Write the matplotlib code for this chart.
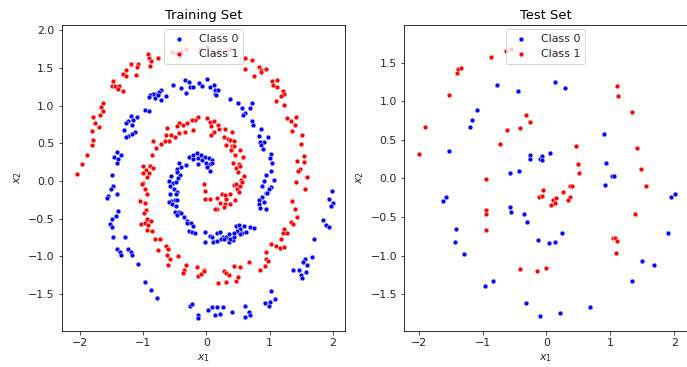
import numpy as np
import matplotlib
matplotlib.use("Agg")
import matplotlib.pyplot as plt

# training set, class 0 (blue) -- (x1, x2)
train_class0 = np.array([
    [-0.712, 1.214], [-0.744, 1.182], [-0.813, 1.151], [-0.850, 1.161], [-0.886, 1.138],
    [-0.908, 1.112], [-0.813, 1.102], [-0.759, 1.147], [-0.723, 1.072], [-0.633, 1.129],
    [-0.528, 1.271], [-0.407, 1.235], [-0.343, 1.337], [-0.269, 1.315], [-0.328, 1.169],
    [-0.264, 1.244], [-0.217, 1.244], [-0.117, 1.307], [-0.063, 1.262],
    [0.009, 1.351], [0.063, 1.248], [0.116, 1.280], [0.142, 1.205], [0.184, 1.205],
    [0.131, 1.151], [0.152, 1.138], [0.380, 1.085], [0.500, 1.041], [0.722, 1.032],
    [-0.971, 0.948], [-0.908, 0.926], [-1.198, 0.859], [-1.092, 0.846], [-1.155, 0.810],
    [-1.234, 0.793], [-1.277, 0.770], [-1.182, 0.744], [-1.304, 0.677], [-1.130, 0.647],
    [-1.171, 0.624], [-1.234, 0.603], [-1.277, 0.580], [-1.419, 0.381], [-1.345, 0.345],
    [-1.462, 0.324], [-1.399, 0.292], [-1.408, 0.239], [-1.487, 0.085],
    [-0.275, 0.324], [-0.206, 0.345], [-0.142, 0.372], [-0.206, 0.292], [-0.133, 0.301],
    [-0.090, 0.351], [-0.063, 0.279], [-0.328, 0.212], [-0.434, 0.235], [-0.396, 0.182],
    [-0.459, 0.159], [-0.565, 0.072], [-0.470, 0.116], [-0.418, 0.080], [-0.449, 0.036],
    [-0.127, 0.226],
    [0.696, 0.965], [0.563, 0.965], [0.617, 0.899], [0.579, 0.882], [0.722, 0.802],
    [0.737, 0.749], [0.864, 0.691], [0.828, 0.603], [0.970, 0.590], [0.907, 0.523],
    [0.843, 0.523], [0.870, 0.483], [0.896, 0.425], [1.028, 0.359], [1.002, 0.301],
    [1.038, 0.239], [1.013, 0.138], [0.949, 0.080], [1.065, 0.019],
    [-0.016, 0.324], [0.036, 0.301], [0.089, 0.284], [0.000, 0.239], [0.052, 0.226],
    [0.089, 0.235], [0.009, 0.191], [0.063, 0.129],
    [-1.478, -0.066], [-1.514, -0.110], [-1.419, -0.177], [-1.551, -0.199], [-1.566, -0.220],
    [-1.399, -0.398], [-1.435, -0.465], [-1.487, -0.499], [-1.525, -0.575], [-1.487, -0.611],
    [-1.472, -0.744], [-1.293, -0.744], [-1.419, -0.907], [-1.367, -0.943], [-1.356, -0.983],
    [-1.234, -0.907], [-1.198, -0.943], [-1.182, -0.987],
    [-0.592, 0.000], [-0.522, -0.022], [-0.486, -0.013], [-0.581, -0.066],
    [-0.513, -0.101], [-0.459, -0.146], [-0.576, -0.177], [-0.486, -0.177], [-0.554, -0.266],
    [-0.502, -0.252], [-0.459, -0.252], [-0.592, -0.279], [-0.538, -0.309], [-0.486, -0.332],
    [-0.502, -0.406], [-0.434, -0.412], [-0.459, -0.456], [-0.396, -0.420], [-0.354, -0.473],
    [-0.312, -0.531], [-0.301, -0.562], [-0.248, -0.552], [-0.206, -0.598], [-0.275, -0.664],
    [-0.222, -0.672], [-0.185, -0.685],
    [0.907, 0.000], [0.880, -0.066], [1.013, -0.075], [0.986, -0.110], [0.934, -0.154],
    [0.959, -0.163], [0.880, -0.212], [0.828, -0.252], [0.907, -0.279], [0.828, -0.309],
    [0.839, -0.354], [0.934, -0.367],
    [-0.016, -0.672], [0.052, -0.730], [0.089, -0.738], [-0.027, -0.805], [0.104, -0.805],
    [0.168, -0.797], [0.168, -0.695], [0.222, -0.677], [0.263, -0.738], [0.231, -0.774],
    [0.316, -0.738], [0.285, -0.765], [0.353, -0.708], [0.353, -0.805], [0.421, -0.788],
    [0.380, -0.765], [0.432, -0.738], [0.475, -0.598], [0.511, -0.588], [0.538, -0.632],
    [0.484, -0.664], [0.563, -0.685], [0.527, -0.708], [0.633, -0.672], [0.696, -0.611],
    [0.748, -0.628], [0.601, -0.598], [0.443, -0.685],
    [1.987, -0.133], [1.935, -0.234], [2.003, -0.296], [1.962, -0.332], [1.840, -0.518],
    [1.883, -0.588], [1.935, -0.611], [1.698, -0.765],
    [-1.076, -1.102], [-0.971, -1.341], [-0.881, -1.442], [-0.775, -1.554], [-0.259, -1.655],
    [-0.222, -1.628], [-0.133, -1.774], [-0.133, -1.819],
    [1.555, -1.031], [1.671, -1.013], [1.529, -1.076], [1.592, -1.120], [1.370, -1.177],
    [1.460, -1.186], [1.566, -1.208], [1.487, -1.252], [1.503, -1.288], [1.028, -1.456],
    [1.076, -1.562], [0.922, -1.620], [0.997, -1.607], [0.986, -1.655], [0.025, -1.717],
    [0.089, -1.673], [0.168, -1.673], [0.258, -1.673], [0.142, -1.774], [0.222, -1.761],
    [0.405, -1.744], [0.617, -1.655], [0.669, -1.740], [0.685, -1.774], [0.617, -1.806],
])

# training set, class 1 (red)
train_class1 = np.array([
    [-0.924, 1.679], [-0.913, 1.629], [-0.760, 1.634], [-0.881, 1.590], [-0.897, 1.527],
    [-1.082, 1.559], [-1.103, 1.510], [-1.187, 1.546], [-1.108, 1.413], [-1.272, 1.470],
    [-1.324, 1.426], [-1.272, 1.394], [-1.483, 1.324], [-1.498, 1.262], [-1.451, 1.262],
    [-1.388, 1.258], [-1.399, 1.218], [-1.324, 1.200], [-1.630, 1.041],
    [-0.538, 1.713], [-0.475, 1.705], [-0.407, 1.713], [-0.316, 1.753], [-0.106, 1.758],
    [0.005, 1.775], [0.142, 1.692], [0.195, 1.736], [0.326, 1.736], [0.380, 1.758],
    [0.606, 1.633], [0.722, 1.607], [0.617, 1.483], [0.828, 1.519], [0.864, 1.479],
    [0.934, 1.483], [0.870, 1.440], [0.759, 1.390], [1.038, 1.324], [1.112, 1.337],
    [1.049, 1.271], [1.108, 1.244], [1.207, 1.195], [1.223, 1.161], [1.180, 1.125],
    [1.092, 1.062],
    [-1.672, 0.979], [-1.630, 0.935], [-1.684, 0.882], [-1.788, 0.855],
    [-1.767, 0.766], [-1.699, 0.722], [-1.815, 0.660], [-1.794, 0.544], [-1.804, 0.483],
    [-1.883, 0.345], [-1.962, 0.226], [-2.052, 0.093],
    [-0.127, 0.855], [-0.180, 0.810], [-0.233, 0.810], [-0.312, 0.766], [-0.364, 0.744],
    [-0.434, 0.766], [-0.459, 0.736], [-0.617, 0.704], [-0.633, 0.616], [-0.565, 0.611],
    [-0.434, 0.637], [-0.343, 0.647], [-0.206, 0.677], [-0.502, 0.590], [-0.592, 0.527],
    [-0.660, 0.527], [-0.723, 0.491], [-0.802, 0.438], [-0.839, 0.527], [-0.866, 0.345],
    [-0.997, 0.195], [-0.897, 0.204], [-0.839, 0.169], [-0.960, 0.146], [-1.003, 0.102],
    [-0.908, 0.102], [-0.945, 0.049],
    [0.009, 0.833], [0.063, 0.780], [0.116, 0.802], [0.179, 0.744], [0.073, 0.726],
    [0.116, 0.647], [0.073, 0.611], [0.195, 0.691], [0.301, 0.691], [0.405, 0.647],
    [0.274, 0.580], [0.337, 0.558], [0.369, 0.544], [0.432, 0.536], [0.316, 0.483],
    [0.405, 0.461], [0.443, 0.470], [0.396, 0.412], [0.459, 0.351], [0.538, 0.412],
    [0.579, 0.324], [0.421, 0.239], [0.511, 0.226], [0.538, 0.204], [0.468, 0.173],
    [0.500, 0.116], [0.590, 0.062], [0.554, 0.019],
    [1.223, 1.009], [1.275, 0.833], [1.408, 0.855], [1.329, 0.802], [1.392, 0.744],
    [1.354, 0.669], [1.513, 0.616], [1.497, 0.491], [1.540, 0.328], [1.434, 0.262],
    [1.540, 0.248], [1.471, 0.159], [1.449, 0.129], [1.592, 0.049],
    [-0.997, -0.031], [-1.024, -0.044], [-0.971, -0.110], [-0.934, -0.177],
    [-1.055, -0.266], [-0.976, -0.287], [-0.949, -0.389], [-0.987, -0.429], [-0.934, -0.499],
    [-0.881, -0.531], [-1.029, -0.575], [-0.976, -0.552], [-0.924, -0.588], [-0.945, -0.655],
    [-0.854, -0.664], [-0.813, -0.774], [-0.739, -0.765], [-0.759, -0.920], [-0.633, -0.863],
    [-0.608, -0.898], [-0.628, -0.987], [-0.449, -0.996],
    [-0.043, -0.044], [-0.016, -0.133], [0.052, -0.243], [-0.016, -0.234], [0.168, -0.220],
    [0.247, -0.177], [0.301, -0.190], [0.369, -0.177], [0.316, -0.243], [0.222, -0.296],
    [0.301, -0.309], [0.369, -0.309], [0.459, -0.252], [0.274, -0.345], [0.168, -0.367],
    [0.142, -0.376], [0.432, -0.057], [0.475, -0.044], [0.484, -0.110], [0.511, -0.146],
    [0.538, -0.066], [0.563, -0.013],
    [1.408, -0.013], [1.551, -0.110], [1.354, -0.266], [1.392, -0.367], [1.424, -0.473],
    [1.329, -0.544], [1.370, -0.566], [1.223, -0.641], [1.207, -0.685], [1.266, -0.685],
    [1.180, -0.765], [1.028, -0.831], [1.092, -0.863], [1.160, -0.894], [1.223, -0.880],
    [0.934, -0.938],
    [-0.576, -1.031], [-0.601, -1.120], [-0.328, -1.120], [-0.354, -1.177], [-0.364, -1.222],
    [-0.142, -1.146], [-0.133, -1.266], [-0.079, -1.235],
    [-0.043, -1.177], [-0.032, -1.199], [0.184, -1.355], [0.274, -1.190], [0.310, -1.222],
    [0.353, -1.252], [0.316, -1.341], [0.432, -1.133], [0.527, -1.146], [0.475, -1.323],
    [0.495, -1.279], [0.669, -1.076], [0.934, -1.031], [0.970, -1.057], [0.918, -1.133],
    [0.843, -1.177],
])

# test set, class 0 (blue)
test_class0 = np.array([
    [-0.773, 1.211], [-0.438, 1.137], [0.130, 1.253], [0.286, 1.168], [-1.095, 0.879],
    [-1.158, 0.758], [-1.200, 0.659], [-1.529, 0.354], [-0.563, 0.065], [-0.433, 0.090],
    [-0.250, 0.302], [-0.261, 0.251], [-0.105, 0.251], [-0.063, 0.293], [-0.069, 0.233],
    [0.052, 0.323], [0.897, 0.574], [0.939, 0.194], [1.027, 0.035], [1.058, 0.035],
    [0.923, -0.081], [-1.618, -0.297], [-1.576, -0.240], [-1.419, -0.650], [-1.435, -0.822],
    [-1.294, -0.986], [-0.563, -0.370], [-0.548, -0.430], [-0.351, -0.460], [-0.297, -0.563],
    [-0.136, -0.792], [0.041, -0.835], [0.141, -0.822], [0.250, -0.705], [1.903, -0.705],
    [1.956, -0.240], [2.008, -0.198], [1.496, -1.072], [1.679, -1.128], [1.340, -1.331],
    [-0.836, -1.331], [-0.966, -1.395], [-0.313, -1.610], [-0.105, -1.783], [0.219, -1.739],
    [0.689, -1.667],
])

# test set, class 1 (red)
test_class1 = np.array([
    [-1.998, 0.310], [-1.894, 0.659], [-1.529, 1.081], [-1.399, 1.362], [-1.383, 1.413],
    [-1.330, 1.434], [-0.861, 1.576], [-0.637, 1.650], [-0.548, 1.676], [0.192, 1.633],
    [-0.950, -0.008], [-0.731, 0.444], [-0.617, 0.629], [-0.407, 0.646], [-0.313, 0.819],
    [-0.261, 0.733], [0.459, 0.413], [0.495, 0.181], [0.510, 0.065], [1.111, 1.202],
    [1.127, 1.065], [1.340, 0.862], [1.424, 0.397], [1.480, 0.121], [1.565, -0.094],
    [0.365, -0.094], [0.407, -0.094], [0.260, -0.181], [-0.053, -0.155], [-0.120, -0.240],
    [-0.069, -0.224], [0.078, -0.340], [0.103, -0.284], [0.156, -0.253], [0.141, -0.318],
    [0.376, -0.240], [0.338, -0.284], [1.393, -0.460], [-0.939, -0.404], [-0.950, -0.460],
    [-0.950, -0.663], [1.042, -0.779], [1.080, -0.779], [1.111, -0.805], [1.095, -0.973],
    [-0.418, -1.176], [-0.141, -1.202], [0.000, -1.158],
])

plt.rcParams["font.size"] = 11
plt.rcParams["text.color"] = "#262626"
plt.rcParams["axes.labelcolor"] = "#262626"
plt.rcParams["xtick.color"] = "#262626"
plt.rcParams["ytick.color"] = "#262626"

W, H = 687, 367
fig = plt.figure(figsize=(W / 72, H / 72), dpi=72)
ax1 = fig.add_axes([61.5 / W, 1 - 331 / H, 283.5 / W, 306 / H])
ax2 = fig.add_axes([404 / W, 1 - 331 / H, 283 / W, 306 / H])


def draw(ax, c0, c1, title):
    ax.scatter(c0[:, 0], c0[:, 1], s=24, c="blue", edgecolors="white",
               linewidths=0.5, label="Class 0")
    ax.scatter(c1[:, 0], c1[:, 1], s=24, c="red", edgecolors="white",
               linewidths=0.5, label="Class 1")
    ax.set_title(title, fontsize=13, color="black")
    ax.set_xlabel("$x_1$")
    ax.set_ylabel("$x_2$")
    ax.legend(loc="upper center", borderaxespad=0.4)


draw(ax1, train_class0, train_class1, "Training Set")
ax1.set_xlim(-2.29, 2.19)
ax1.set_ylim(-1.99, 2.07)

draw(ax2, test_class0, test_class1, "Test Set")
ax2.set_xlim(-2.23, 2.2)
ax2.set_ylim(-1.977, 1.986)

fig.savefig("out.png", dpi=72)
